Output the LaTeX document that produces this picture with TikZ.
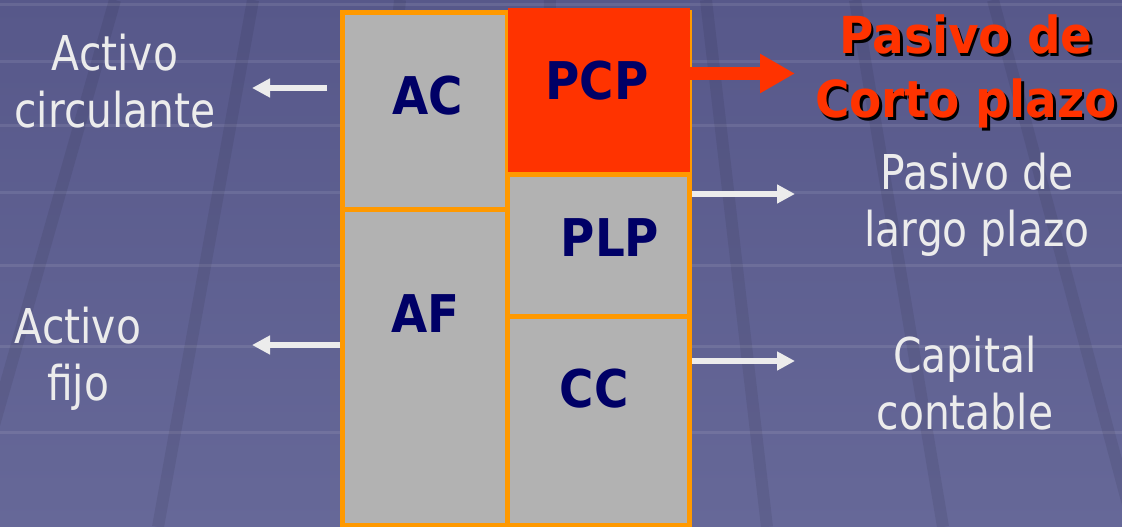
\documentclass[tikz,border=0pt]{standalone}
\usepackage{fontspec}
\setmainfont{DejaVu Sans}
\newfontfamily\labelfont{DejaVu Sans}[FakeStretch=0.85]
\newfontfamily\boxfont{DejaVu Sans}[FakeStretch=0.9]
\newfontfamily\titlefont{DejaVu Sans}[FakeStretch=0.92]
\usepackage{tikz}
\usetikzlibrary{arrows.meta}

\definecolor{bgtop}{HTML}{57588A}
\definecolor{bgbot}{HTML}{666898}
\definecolor{cellorange}{HTML}{FF9900}
\definecolor{cellgray}{HTML}{B2B2B2}
\definecolor{cellnavy}{HTML}{000066}
\definecolor{pcpred}{HTML}{FF3300}
\definecolor{labelwhite}{HTML}{ECECEC}

\begin{document}
\begin{tikzpicture}[x=1pt, y=-1pt,
    cell/.style={draw=cellorange, fill=cellgray, line width=5pt, inner sep=0pt},
    celltext/.style={text=cellnavy, inner sep=0pt, font=\boxfont\bfseries\fontsize{52}{60}\selectfont},
    sidetext/.style={text=labelwhite, inner sep=0pt, align=center, font=\labelfont\fontsize{48}{57}\selectfont},
    titletext/.style={inner sep=0pt, align=center, font=\titlefont\bfseries\fontsize{51}{64}\selectfont},
    wharrow/.style={draw=labelwhite, line width=6.5pt, -{Triangle[length=18pt,width=18pt]}},
    redarrow/.style={draw=pcpred, line width=12.5pt, -{Triangle[length=35pt,width=37pt]}},
    gridline/.style={draw=white, opacity=0.09, line width=3pt},
    streak/.style={draw=black, opacity=0.07, line width=12pt}]
          \useasboundingbox (0,0) rectangle (1122,527);
          \fill [top color=bgtop, bottom color=bgbot] (0,0) rectangle (1122,527); % slide background
          \foreach \y in {5,62,125,192,265,346,432}
            \draw [gridline] (0,\y) -- (1122,\y);
          \foreach \xa/\xb in {115/-35, 253/158, 400/348, 550/544, 706/767, 855/943, 993/1134}
            \draw [streak] (\xa,0) -- (\xb,527);

          \node [cell, minimum width=164.5pt, minimum height=197pt] (ac) at (424.75,111) {}; % Draws a cell
          \node [cell, minimum width=164.5pt, minimum height=315.5pt] (af) at (424.75,367.25) {}; % Draws a cell
          \node [cell, minimum width=182.5pt, minimum height=162pt] (top) at (598.25,93.5) {}; % Draws a cell
          \node [cell, minimum width=182.5pt, minimum height=141.5pt] (plp) at (598.25,245.25) {}; % Draws a cell
          \node [cell, minimum width=182.5pt, minimum height=209pt] (cc) at (598.25,420.5) {}; % Draws a cell
          \node [fill=pcpred, inner sep=0pt, minimum width=182pt, minimum height=164pt] (pcp) at (599,90) {}; % Draws a cell

          \node [celltext] (tac) at (428,96) {AC};
          \node [celltext] (tpcp) at (597,81) {PCP};
          \node [celltext] (tplp) at (610,237.5) {PLP};
          \node [celltext] (taf) at (425.5,313.5) {AF};
          \node [celltext] (tcc) at (594,388.5) {CC};

          \node [sidetext] (lac) at (115,87.4) {\strut Activo\\\strut circulante};
          \node [sidetext] (laf) at (78,360.1) {\strut Activo\\\strut fijo};
          \node [sidetext] (lplp) at (977,207) {\strut Pasivo de\\\strut largo plazo};
          \node [sidetext] (lcc) at (965,390) {\strut Capital\\\strut contable};
          \node [titletext, text=black] (lpcpshadow) at (968.5,75.7) {\strut Pasivo de\\\strut Corto plazo};
          \node [titletext, text=pcpred] (lpcp) at (966,73.2) {\strut Pasivo de\\\strut Corto plazo};

          \coordinate (acTip) at (252,88);
          \coordinate (afTip) at (252,345);
          \coordinate (pcpTip) at (795,73.5);
          \coordinate (plpTip) at (795,194);
          \coordinate (ccTip) at (795,361);

          \draw [wharrow, shorten <=13pt] (acTip -| ac.west) -- (acTip);
          \draw [wharrow] (afTip -| af.west) -- (afTip);
          \draw [redarrow] (pcpTip -| pcp.east) -- (pcpTip);
          \draw [wharrow] (plpTip -| plp.east) -- (plpTip);
          \draw [wharrow] (ccTip -| cc.east) -- (ccTip);
\end{tikzpicture}
\end{document}
